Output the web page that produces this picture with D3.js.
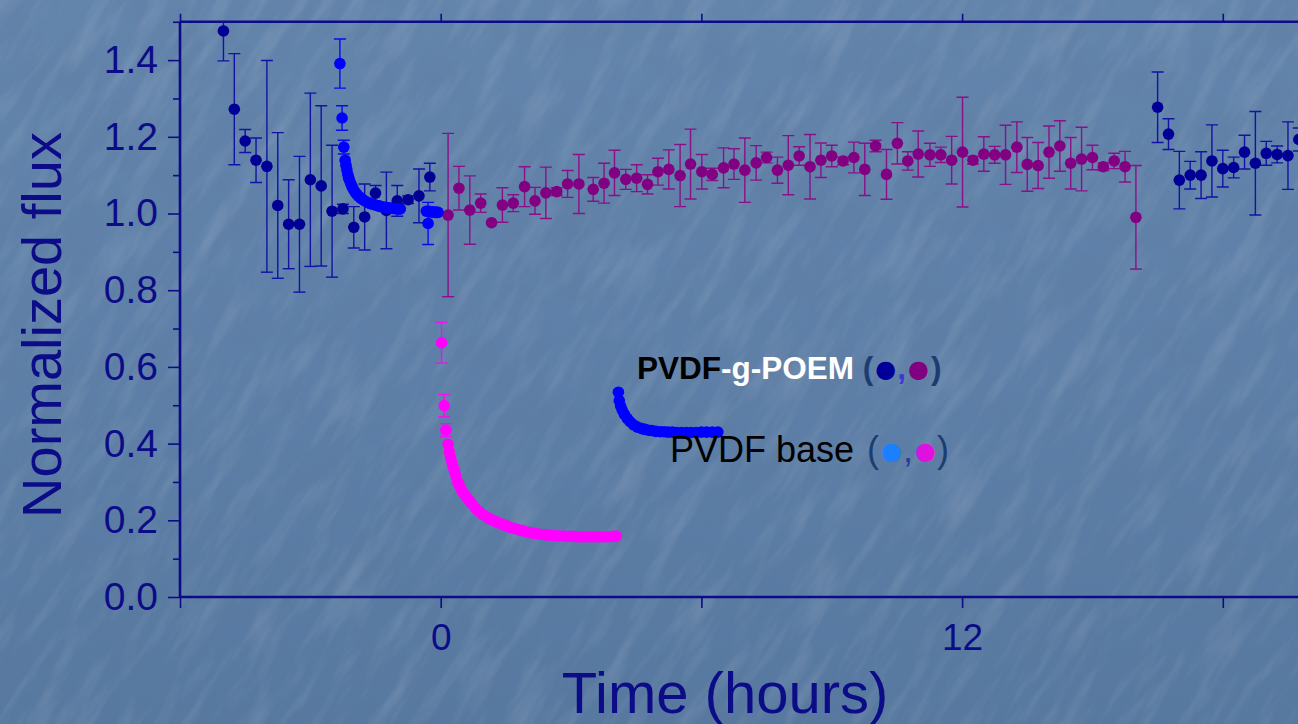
<!DOCTYPE html>
<html>
<head>
<meta charset="utf-8">
<script src="https://cdn.jsdelivr.net/npm/d3@7"></script>
<style>
  html, body { margin: 0; padding: 0; background: #5d7ea6; }
  svg { display: block; }
</style>
</head>
<body>
<svg id="chart" width="1298" height="724"></svg>
<script>
// ---- PVDF-g-POEM, before the step (navy) ----
const poemBeforeTime = [-5.00, -4.75, -4.50, -4.25, -4.00, -3.75, -3.50, -3.25, -3.00, -2.75,
                        -2.50, -2.25, -2.00, -1.75, -1.50, -1.25, -1.00, -0.75, -0.50, -0.25];
const poemBeforeFlux = [1.476, 1.272, 1.189, 1.139, 1.123, 1.021, 0.972, 0.972, 1.088, 1.072,
                        1.006, 1.012, 0.964, 0.991, 1.053, 1.008, 1.033, 1.036, 1.046, 1.095];
const poemBeforeErr  = [0.078, 0.145, 0.030, 0.058, 0.276, 0.190, 0.116, 0.177, 0.226, 0.209,
                        0.172, 0.012, 0.054, 0.086, 0.020, 0.100, 0.040, 0.010, 0.070, 0.036];

// ---- PVDF-g-POEM, after the step (purple) ----
const poemAfterTime = [0.17, 0.42, 0.67, 0.92, 1.17, 1.42, 1.67, 1.93, 2.17, 2.42,
                       2.67, 2.92, 3.18, 3.51, 3.76, 4.00, 4.26, 4.51, 4.76, 5.00,
                       5.25, 5.51, 5.75, 6.01, 6.25, 6.51, 6.75, 7.00, 7.26, 7.50,
                       7.75, 8.00, 8.25, 8.50, 8.75, 9.00, 9.26, 9.51, 9.76, 10.01,
                       10.26, 10.51, 10.75, 10.99, 11.26, 11.51, 11.76, 12.01, 12.25, 12.50,
                       12.75, 13.00, 13.26, 13.50, 13.75, 14.00, 14.25, 14.50, 14.75, 15.00,
                       15.25, 15.50, 15.75, 16.00];
const poemAfterFlux = [0.996, 1.066, 1.009, 1.027, 0.976, 1.022, 1.027, 1.070, 1.033, 1.054,
                       1.057, 1.077, 1.077, 1.063, 1.079, 1.106, 1.089, 1.092, 1.076, 1.109,
                       1.115, 1.099, 1.129, 1.109, 1.102, 1.119, 1.129, 1.113, 1.132, 1.146,
                       1.113, 1.126, 1.150, 1.122, 1.139, 1.150, 1.137, 1.146, 1.115, 1.176,
                       1.102, 1.183, 1.137, 1.155, 1.153, 1.153, 1.139, 1.160, 1.139, 1.155,
                       1.153, 1.153, 1.173, 1.128, 1.125, 1.160, 1.176, 1.131, 1.142, 1.146,
                       1.122, 1.137, 1.122, 0.990];
const poemAfterErr  = [0.213, 0.057, 0.089, 0.024, 0.000, 0.045, 0.022, 0.052, 0.035, 0.067,
                       0.010, 0.035, 0.077, 0.031, 0.052, 0.059, 0.026, 0.035, 0.025, 0.035,
                       0.051, 0.081, 0.091, 0.045, 0.016, 0.052, 0.040, 0.084, 0.045, 0.014,
                       0.034, 0.077, 0.024, 0.084, 0.045, 0.028, 0.010, 0.040, 0.068, 0.015,
                       0.065, 0.054, 0.024, 0.060, 0.030, 0.020, 0.062, 0.143, 0.010, 0.045,
                       0.022, 0.077, 0.066, 0.070, 0.060, 0.068, 0.066, 0.067, 0.083, 0.032,
                       0.010, 0.020, 0.040, 0.135];

// ---- PVDF-g-POEM, late readings (navy) ----
const poemLateTime = [16.50, 16.75, 17.00, 17.25, 17.50, 17.75, 18.00, 18.25, 18.50, 18.75,
                      19.00, 19.25, 19.50, 19.75];
const poemLateFlux = [1.277, 1.207, 1.087, 1.100, 1.100, 1.137, 1.117, 1.120, 1.160, 1.131,
                      1.157, 1.154, 1.151, 1.193];
const poemLateErr  = [0.092, 0.040, 0.075, 0.036, 0.061, 0.094, 0.048, 0.027, 0.044, 0.135,
                      0.031, 0.022, 0.088, 0.030];

// ---- PVDF base, before the step (blue) ----
const baseBeforeTime = [-2.32, -2.27, -2.23, -2.20, -2.18, -2.16, -2.14, -2.12, -2.10, -2.07,
                        -2.04, -2.01, -1.97, -1.93, -1.89, -1.84, -1.79, -1.73, -1.67, -1.62,
                        -1.56, -1.50, -1.44, -1.38, -1.32, -1.26, -1.20, -1.14, -1.08, -1.02,
                        -0.96, -0.93,
                        -0.33, -0.30, -0.29, -0.27, -0.24, -0.21, -0.18, -0.15, -0.12, -0.09, -0.06];
const baseBeforeFlux = [1.391, 1.249, 1.173, 1.139, 1.126, 1.114, 1.103, 1.094, 1.087, 1.078,
                        1.070, 1.063, 1.056, 1.050, 1.045, 1.040, 1.036, 1.032, 1.028, 1.026,
                        1.024, 1.022, 1.020, 1.018, 1.017, 1.016, 1.015, 1.014, 1.013, 1.012,
                        1.012, 1.012,
                        1.006, 1.006, 0.974, 1.005, 1.005, 1.004, 1.004, 1.004, 1.003, 1.003, 1.003];
const baseBeforeErr  = [0.064, 0.032, 0.018, 0, 0, 0, 0, 0, 0, 0,
                        0, 0, 0, 0, 0, 0, 0, 0, 0, 0,
                        0, 0, 0, 0, 0, 0, 0, 0, 0, 0,
                        0, 0,
                        0, 0, 0.055, 0, 0, 0, 0, 0, 0, 0, 0];

// ---- PVDF base, after the step (magenta) ----
const baseAfterTime = [0.02, 0.08, 0.12, 0.17, 0.20, 0.23, 0.26, 0.29, 0.32, 0.35,
                       0.39, 0.43, 0.48, 0.53, 0.59, 0.65, 0.72, 0.80, 0.88, 0.97,
                       1.07, 1.12, 1.18, 1.24, 1.30, 1.36, 1.43, 1.50, 1.57, 1.64,
                       1.72, 1.80, 1.88, 1.96, 2.05, 2.14, 2.23, 2.32, 2.42, 2.52,
                       2.62, 2.72, 2.83, 2.94, 3.05, 3.16, 3.27, 3.38, 3.50, 3.61,
                       3.73, 3.84, 3.96, 4.04];
const baseAfterFlux = [0.663, 0.499, 0.435, 0.398, 0.377, 0.362, 0.350, 0.338, 0.327, 0.316,
                       0.300, 0.291, 0.279, 0.270, 0.261, 0.252, 0.243, 0.232, 0.223, 0.215,
                       0.208, 0.204, 0.201, 0.198, 0.195, 0.192, 0.189, 0.186, 0.183, 0.180,
                       0.178, 0.175, 0.173, 0.170, 0.168, 0.166, 0.165, 0.163, 0.162, 0.161,
                       0.160, 0.159, 0.159, 0.158, 0.158, 0.157, 0.157, 0.157, 0.157, 0.157,
                       0.157, 0.157, 0.158, 0.159];
const baseAfterErr  = [0.053, 0.029, 0.017];

// ---- PVDF base, second run after the step (blue) ----
const baseSecondTime = [4.09, 4.11, 4.14, 4.18, 4.23, 4.29, 4.36, 4.44, 4.53, 4.63,
                        4.70, 4.78, 4.86, 4.95, 5.05, 5.14, 5.23, 5.33, 5.43, 5.54,
                        5.65, 5.76, 5.88, 6.00, 6.12, 6.25, 6.38];
const baseSecondFlux = [0.534, 0.512, 0.498, 0.487, 0.476, 0.466, 0.457, 0.449, 0.443, 0.439,
                        0.437, 0.435, 0.434, 0.432, 0.431, 0.431, 0.430, 0.430, 0.429, 0.429,
                        0.429, 0.429, 0.429, 0.430, 0.430, 0.430, 0.430];

// ---- axes ----
const xTickValues = [-6, 0, 6, 12, 18, 24];
const xTickLabels = ["", "0", "", "12", "", ""];
const yTickValues = [0.0, 0.2, 0.4, 0.6, 0.8, 1.0, 1.2, 1.4];
const yTickLabels = ["0.0", "0.2", "0.4", "0.6", "0.8", "1.0", "1.2", "1.4"];
const yMinorValues = [0.1, 0.3, 0.5, 0.7, 0.9, 1.1, 1.3, 1.5];

const W = 1298, H = 724;
const plot = { left: 180, top: 21, bottom: 597 };
const axisColor = "#0c0c88";
const font = "'Liberation Sans', Arial, Helvetica, sans-serif";

const svg = d3.select("#chart");
const defs = svg.append("defs");

// Paper-like background texture
const tex = defs.append("filter").attr("id", "tex")
  .attr("x", 0).attr("y", 0).attr("width", "100%").attr("height", "100%");
tex.append("feTurbulence").attr("type", "fractalNoise")
  .attr("baseFrequency", "0.012 0.06").attr("numOctaves", 4).attr("seed", 7);
tex.append("feColorMatrix").attr("type", "matrix")
  .attr("values", "0 0 0 0 1  0 0 0 0 1  0 0 0 0 1  2.0 0 0 0 -0.9");

const mottle = defs.append("filter").attr("id", "mottle")
  .attr("x", 0).attr("y", 0).attr("width", "100%").attr("height", "100%");
mottle.append("feTurbulence").attr("type", "fractalNoise")
  .attr("baseFrequency", "0.02 0.02").attr("numOctaves", 3).attr("seed", 11);
mottle.append("feColorMatrix").attr("type", "matrix")
  .attr("values", "0 0 0 0 0.12  0 0 0 0 0.2  0 0 0 0 0.35  1.6 0 0 0 -0.7");

const vign = defs.append("linearGradient").attr("id", "vign")
  .attr("x1", 0).attr("y1", 0).attr("x2", 0).attr("y2", 1);
vign.append("stop").attr("offset", "0").attr("stop-color", "#6384ab");
vign.append("stop").attr("offset", "0.5").attr("stop-color", "#5e7fa7");
vign.append("stop").attr("offset", "1").attr("stop-color", "#57789f");

svg.append("rect").attr("width", W).attr("height", H).attr("fill", "url(#vign)");
svg.append("rect").attr("x", -400).attr("y", -400).attr("width", W + 800).attr("height", H + 800)
  .attr("filter", "url(#mottle)").attr("opacity", 0.4);
svg.append("g").attr("transform", `rotate(-58 ${W / 2} ${H / 2})`)
  .append("rect").attr("x", -500).attr("y", -700).attr("width", W + 1000).attr("height", H + 1400)
  .attr("filter", "url(#tex)").attr("opacity", 0.12);

// Scales
const x = d3.scaleLinear().domain([-6, 24]).range([plot.left, plot.left + 30 * 43.45]);
const y = d3.scaleLinear().domain([0, 1.5]).range([plot.bottom, plot.bottom - 1.5 * 383.5]);

defs.append("clipPath").attr("id", "plotClip")
  .append("rect").attr("x", plot.left).attr("y", y(1.5))
  .attr("width", W - plot.left).attr("height", plot.bottom - y(1.5));

// Axes
const gLeft = svg.append("g").attr("transform", `translate(${plot.left},0)`)
  .call(d3.axisLeft(y).tickValues(yTickValues).tickSize(12).tickPadding(10)
    .tickFormat((d, i) => yTickLabels[i]));
const gLeftMinor = svg.append("g").attr("transform", `translate(${plot.left},0)`)
  .call(d3.axisLeft(y).tickValues(yMinorValues).tickSize(7).tickFormat(""));
const gBottom = svg.append("g").attr("transform", `translate(0,${plot.bottom})`)
  .call(d3.axisBottom(x).tickValues(xTickValues).tickSize(11).tickPadding(16)
    .tickFormat((d, i) => xTickLabels[i]));
const gTop = svg.append("g").attr("transform", `translate(0,${y(1.5)})`)
  .call(d3.axisTop(x).tickValues(xTickValues).tickSize(8).tickFormat(""));

[gLeft, gLeftMinor, gBottom, gTop].forEach(g => {
  g.select(".domain").attr("stroke", axisColor).attr("stroke-width", 2.6);
  g.selectAll(".tick line").attr("stroke", axisColor).attr("stroke-width", 1.6);
  g.selectAll(".tick text").attr("fill", axisColor).attr("font-family", font);
});
gLeft.selectAll(".tick text").attr("font-size", 39);
gBottom.selectAll(".tick text").attr("font-size", 37);
gLeftMinor.select(".domain").remove();
gBottom.select(".domain").attr("d", `M${plot.left},0H${W + 10}`);
gTop.select(".domain").attr("d", `M${plot.left},0H${W + 10}`);
gLeft.select(".domain").attr("d", `M0,${plot.bottom}V${y(1.5)}`);

// Axis titles
svg.append("text")
  .attr("transform", `translate(61,${325}) rotate(-90)`)
  .attr("text-anchor", "middle").attr("font-family", font).attr("font-size", 56)
  .attr("fill", axisColor).text("Normalized flux");
svg.append("text")
  .attr("x", 725).attr("y", 713)
  .attr("text-anchor", "middle").attr("font-family", font).attr("font-size", 58)
  .attr("fill", axisColor).text("Time (hours)");

// Data series
const plotG = svg.append("g").attr("clip-path", "url(#plotClip)");

function drawSeries(times, flux, errs, color, barColor) {
  const rows = times.map((t, i) => ({ t, f: flux[i], e: (errs && errs[i]) || 0 }));
  const g = plotG.append("g");
  const bars = g.selectAll("g.bar").data(rows.filter(d => d.e > 0)).join("g")
    .attr("stroke", barColor).attr("stroke-width", 1.4).attr("fill", "none");
  bars.append("line")
    .attr("x1", d => x(d.t)).attr("x2", d => x(d.t))
    .attr("y1", d => y(d.f + d.e)).attr("y2", d => y(d.f - d.e));
  bars.append("line")
    .attr("x1", d => x(d.t) - 6).attr("x2", d => x(d.t) + 6)
    .attr("y1", d => y(d.f + d.e)).attr("y2", d => y(d.f + d.e));
  bars.append("line")
    .attr("x1", d => x(d.t) - 6).attr("x2", d => x(d.t) + 6)
    .attr("y1", d => y(d.f - d.e)).attr("y2", d => y(d.f - d.e));
  g.selectAll("circle").data(rows).join("circle")
    .attr("cx", d => x(d.t)).attr("cy", d => y(d.f)).attr("r", 5.8)
    .attr("fill", color);
}

drawSeries(poemBeforeTime, poemBeforeFlux, poemBeforeErr, "#000096", "#1212a6");
drawSeries(poemLateTime, poemLateFlux, poemLateErr, "#000096", "#1212a6");
drawSeries(poemAfterTime, poemAfterFlux, poemAfterErr, "#820082", "#8a108a");
drawSeries(baseBeforeTime, baseBeforeFlux, baseBeforeErr, "#0000ff", "#0a0af0");
drawSeries(baseAfterTime, baseAfterFlux, baseAfterErr, "#ff00ff", "#f010f0");
drawSeries(baseSecondTime, baseSecondFlux, null, "#0000ff", "#0000ff");

// Legend
const parenColor = "#1b3d70";
const leg1 = svg.append("text").attr("x", 637).attr("y", 379)
  .attr("font-family", font).attr("font-size", 31.5).attr("font-weight", "bold");
leg1.append("tspan").attr("fill", "#000000").text("PVDF");
leg1.append("tspan").attr("fill", "#ffffff").text("-g-POEM ");
leg1.append("tspan").attr("fill", parenColor).text("(");
leg1.append("tspan").attr("fill", "#000099").attr("font-family", "'DejaVu Sans'")
  .attr("font-size", 24).attr("font-weight", "normal").attr("dx", 2).attr("dy", -2).text("●");
leg1.append("tspan").attr("fill", "#3a3ad0").attr("dx", 1).attr("dy", 2).text(",");
leg1.append("tspan").attr("fill", "#800080").attr("font-family", "'DejaVu Sans'")
  .attr("font-size", 24).attr("font-weight", "normal").attr("dx", 2).attr("dy", -2).text("●");
leg1.append("tspan").attr("fill", parenColor).attr("dx", 2).attr("dy", 2).text(")");

const leg2 = svg.append("text").attr("x", 670).attr("y", 462)
  .attr("font-family", font).attr("font-size", 36);
leg2.append("tspan").attr("fill", "#000000").text("PVDF base ");
leg2.append("tspan").attr("fill", parenColor).attr("dx", 3).text("(");
leg2.append("tspan").attr("fill", "#1a80ff").attr("font-family", "'DejaVu Sans'")
  .attr("font-size", 24).attr("dx", 2).attr("dy", -3).text("●");
leg2.append("tspan").attr("fill", "#2a3a9a").attr("dx", 1).attr("dy", 3).text(",");
leg2.append("tspan").attr("fill", "#e010e0").attr("font-family", "'DejaVu Sans'")
  .attr("font-size", 24).attr("dx", 2).attr("dy", -3).text("●");
leg2.append("tspan").attr("fill", parenColor).attr("dx", 1).attr("dy", 3).text(")");
</script>
</body>
</html>
